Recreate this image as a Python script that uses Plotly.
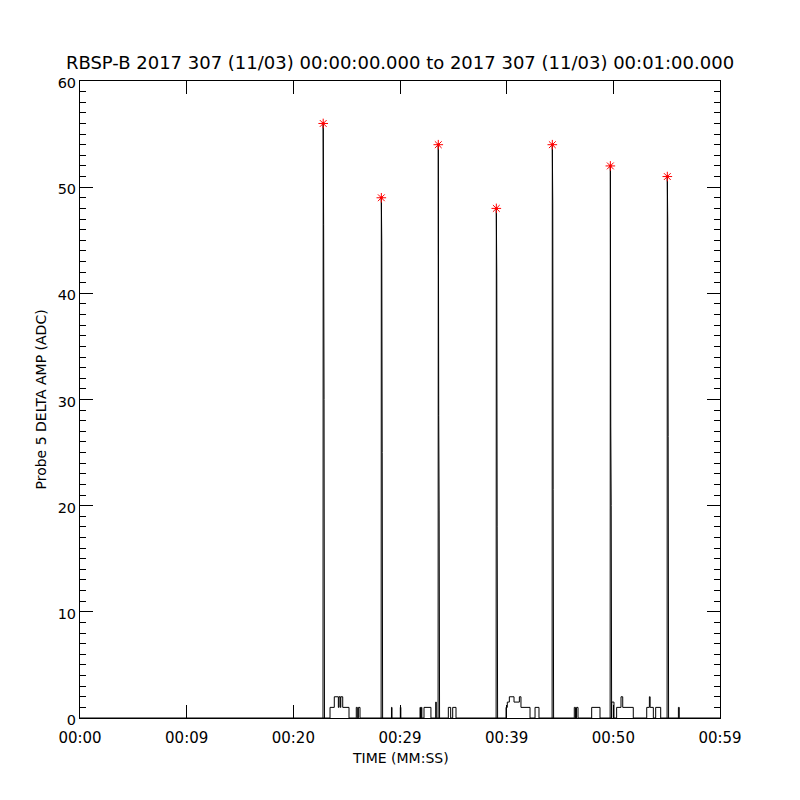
import plotly.graph_objects as go

# ---- data (time in seconds from 00:00:00, amplitude in ADC) ----
# low-level trace (step changes: value holds from each time to the next)
base_t = [0, 23.44, 23.84, 24.22, 24.28, 24.40, 24.45, 24.63, 25.22,
          25.90, 26.00, 26.10, 26.25, 29.20, 29.25, 30.03, 30.08,
          31.88, 31.92, 32.00, 32.05, 32.25, 32.90, 33.35, 33.40,
          34.53, 34.75, 34.94, 35.25,
          39.94, 40.06, 40.25, 40.69, 41.19, 41.34, 42.19, 42.66, 43.03,
          46.34, 46.45, 46.55, 46.69, 47.97, 48.75,
          49.84, 50.06, 50.31, 50.72, 50.88, 51.87,
          53.13, 53.38, 53.45, 53.75, 53.97, 54.44, 56.10, 56.18, 60]
base_v = [0, 1, 2, 1, 2, 1, 2, 1, 0,
          1, 0, 1, 0, 1, 0, 1, 0,
          1, 0, 1, 0, 1, 0, 1.5, 0,
          1, 0, 1, 0,
          1, 1.5, 2, 1.5, 2, 1, 0, 1, 0,
          1, 0, 1, 0, 1, 0,
          1.5, 0, 1, 2, 1, 0,
          1, 2, 1, 0, 1, 0, 1, 0, 0]

# spikes: peak time, peak value, and the two falling samples after the peak
spike_t = [22.80, 28.25, 33.59, 39.03, 44.28, 49.72, 55.06]
spike_peak = [56, 49, 54, 48, 54, 52, 51]
spike_v2 = [46.5, 45, 28.5, 42, 48.5, 27.5, 47]
spike_v3 = [30, 25, 19.5, 18, 21.5, 20, 26.5]
spike_dt = [-0.02, 0.0, 0.04, 0.08, 0.12]   # sample offsets around the peak

xtick_vals = [0, 10, 20, 30, 40, 50, 60]
xtick_text = ["00:00", "00:09", "00:20", "00:29", "00:39", "00:50", "00:59"]

title_text = "RBSP-B 2017 307 (11/03) 00:00:00.000 to 2017 307 (11/03) 00:01:00.000"

# ---- build figure ----
fig = go.Figure()

fig.add_trace(go.Scatter(x=base_t, y=base_v, mode="lines",
                         line=dict(color="black", width=1, shape="hv"),
                         showlegend=False, hoverinfo="skip"))

sx, sy = [], []
for t, p, a, b in zip(spike_t, spike_peak, spike_v2, spike_v3):
    vals = [0, p, a, b, 0]
    for d, v in zip(spike_dt, vals):
        sx.append(t + d)
        sy.append(v)
    sx.append(None)
    sy.append(None)
fig.add_trace(go.Scatter(x=sx, y=sy, mode="lines",
                         line=dict(color="black", width=1),
                         showlegend=False, hoverinfo="skip"))

fig.add_trace(go.Scatter(x=spike_t, y=spike_peak, mode="markers",
                         marker=dict(symbol="asterisk-open", size=8,
                                     line=dict(color="#ff0000", width=1),
                                     color="#ff0000"),
                         showlegend=False))
fig.add_trace(go.Scatter(x=spike_t, y=spike_peak, mode="markers",
                         marker=dict(symbol="circle", size=3, color="#ff0000"),
                         showlegend=False))

font_family = "DejaVu Sans, sans-serif"

# page has an 8px body margin; figure sized/placed to compensate
W, H = 792, 792
L, T = 72, 73
PW, PH = 640, 637

fig.update_layout(
    width=W, height=H,
    paper_bgcolor="white", plot_bgcolor="white",
    margin=dict(l=L, r=W - L - PW, t=T, b=H - T - PH, autoexpand=False),
    font=dict(family=font_family, color="black", size=15),
    title=dict(text=title_text, x=(400 - 8) / W, xanchor="center",
               y=1 - (63 - 8) / H, yref="container", yanchor="middle",
               font=dict(size=18, family=font_family, color="black")),
    xaxis=dict(range=[0, 60], tickvals=xtick_vals, ticktext=xtick_text,
               ticks="inside", ticklen=13, tickwidth=1, tickcolor="black",
               showline=True, linecolor="black", linewidth=1, mirror="ticks",
               showgrid=False, zeroline=False, ticklabelstandoff=6,
               tickfont=dict(size=15)),
    yaxis=dict(range=[0, 60], dtick=10,
               ticks="inside", ticklen=13, tickwidth=1, tickcolor="black",
               showline=True, linecolor="black", linewidth=1, mirror="ticks",
               showgrid=False, zeroline=False, ticklabelshift=2,
               minor=dict(dtick=1, ticks="inside", ticklen=6,
                          tickcolor="black", tickwidth=1, showgrid=False),
               tickfont=dict(size=14.5)),
    annotations=[
        dict(text="TIME (MM:SS)", xref="paper", yref="paper",
             x=0.5, y=-(758 - 718) / PH, xanchor="center", yanchor="middle",
             showarrow=False, font=dict(size=14)),
        dict(text="Probe 5 DELTA AMP (ADC)", xref="paper", yref="paper",
             x=-(80 - 40) / PW, y=0.5, xanchor="center", yanchor="middle",
             textangle=-90, showarrow=False, font=dict(size=14)),
    ],
)

fig.write_html("out.html")
